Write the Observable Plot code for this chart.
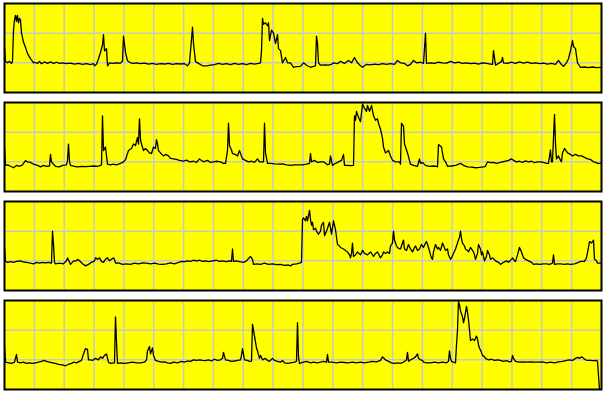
<!DOCTYPE html>
<html>
<head>
<meta charset="utf-8">
<script src="https://cdn.jsdelivr.net/npm/d3@7"></script>
<script src="https://cdn.jsdelivr.net/npm/@observablehq/plot@0.6"></script>
<style>
  html, body { margin: 0; padding: 0; background: #ffffff; }
  #charts svg { display: block; }
</style>
</head>
<body>
<div id="charts"></div>
<script>
const series1 = [[0,1.5],[1,1.05],[3,1.0],[5,1.05],[7,0.98],[8,1.05],[9,2.1],[10,2.45],[11,2.6],[12,2.4],[13,2.6],[14,2.35],[15,2.5],[16,2.45],[17,2.0],[18,1.85],[19,1.7],[21,1.52],[23,1.31],[25,1.2],[26,1.14],[28,1.05],[29,1.0],[30,1.02],[33,0.98],[35,1.05],[37,0.97],[40,1.03],[43,0.98],[46,1.03],[49,0.98],[52,1.02],[55,0.98],[58,1.0],[62,0.97],[66,0.99],[70,0.96],[74,0.98],[78,0.95],[82,0.97],[86,0.94],[89,0.97],[90,0.9],[92,0.95],[94,1.14],[96,1.35],[98,1.6],[99,1.95],[100,1.4],[102,1.48],[103,0.9],[105,1.0],[108,0.98],[112,1.0],[116,0.99],[118,1.05],[119,1.9],[121,1.35],[123,1.07],[126,1.0],[129,0.98],[132,1.0],[136,0.97],[140,0.99],[144,0.96],[148,0.98],[152,0.95],[156,0.97],[160,0.96],[164,0.98],[168,0.95],[172,0.97],[176,0.96],[180,0.97],[183,0.9],[185,1.0],[188,2.2],[189,1.65],[191,1.04],[194,0.98],[198,0.9],[202,0.9],[206,0.92],[210,0.94],[214,0.98],[218,0.95],[222,0.97],[226,0.94],[230,0.98],[234,0.95],[238,0.97],[242,0.94],[246,0.98],[250,0.96],[254,0.98],[256,1.0],[257,1.41],[258,2.5],[259,2.3],[261,2.35],[263,2.25],[264,2.35],[265,1.75],[267,2.1],[269,2.0],[271,1.65],[273,1.95],[274,1.48],[276,1.41],[278,1.0],[281,1.18],[283,1.0],[286,1.0],[289,0.85],[292,0.87],[296,0.88],[299,1.0],[302,0.92],[306,0.85],[309,0.88],[311,0.9],[312,1.9],[313,1.65],[314,1.0],[316,0.92],[320,0.93],[324,0.92],[327,0.95],[329,1.0],[333,0.97],[336,1.05],[340,0.98],[344,1.08],[347,1.0],[350,1.18],[353,1.0],[356,0.9],[358,0.85],[362,0.95],[366,0.93],[370,0.96],[374,0.94],[378,0.97],[382,0.95],[386,0.97],[390,0.95],[393,1.08],[396,1.0],[400,0.98],[403,0.9],[406,0.95],[409,1.08],[412,1.0],[416,1.02],[419,0.98],[421,2.0],[422,0.98],[426,1.0],[430,0.98],[434,1.02],[438,1.0],[442,0.99],[446,1.05],[450,1.0],[454,1.02],[458,0.98],[462,1.0],[466,0.97],[470,0.99],[474,0.96],[478,1.0],[482,0.98],[486,0.96],[488,0.95],[489,1.41],[491,0.92],[494,0.98],[497,1.05],[498,1.18],[499,1.0],[503,0.98],[507,1.02],[511,0.98],[515,1.03],[519,0.99],[523,1.02],[527,0.98],[531,1.0],[535,0.97],[539,0.99],[543,0.96],[547,0.98],[551,0.95],[554,1.08],[556,0.98],[559,0.88],[562,1.0],[564,1.14],[566,1.41],[568,1.75],[569,1.55],[571,1.48],[573,1.0],[576,0.85],[580,0.86],[584,0.84],[588,0.86],[592,0.84],[596,0.85]];

const series2 = [[0,1.48],[1,0.88],[3,0.9],[6,0.85],[9,0.8],[12,0.88],[15,0.85],[18,0.9],[21,1.04],[23,1.0],[26,0.98],[29,0.92],[33,0.88],[36,0.83],[39,0.88],[42,0.85],[45,0.86],[46,1.25],[47,1.0],[48,0.95],[51,0.85],[55,0.83],[58,0.88],[62,0.9],[63,1.04],[64,1.6],[65,1.0],[66,0.88],[70,0.85],[73,0.83],[77,0.85],[81,0.84],[85,0.85],[89,0.86],[93,0.85],[96,0.88],[97,0.9],[98,2.55],[99,1.38],[101,1.5],[103,0.92],[106,0.9],[109,0.92],[112,0.9],[116,0.95],[119,1.0],[121,1.07],[124,1.38],[127,1.45],[129,1.6],[131,1.55],[133,1.82],[134,1.6],[135,2.45],[136,1.75],[137,1.6],[139,1.38],[141,1.45],[143,1.38],[145,1.3],[147,1.28],[149,1.5],[151,1.45],[152,1.75],[153,1.6],[154,1.38],[156,1.3],[159,1.2],[161,1.25],[164,1.2],[166,1.12],[169,1.1],[172,1.08],[175,1.05],[179,1.02],[182,1.06],[185,1.0],[189,1.02],[192,0.98],[195,1.1],[196,1.07],[199,1.0],[203,1.05],[206,0.98],[209,1.0],[212,1.02],[216,1.0],[219,0.95],[221,0.95],[223,1.38],[224,2.3],[225,1.55],[227,1.4],[228,1.28],[231,1.25],[233,1.2],[235,1.38],[238,1.1],[241,1.05],[244,1.0],[247,1.02],[250,0.98],[253,1.1],[255,1.0],[258,1.0],[259,1.0],[260,2.3],[261,1.3],[263,0.95],[266,0.95],[270,0.93],[274,0.92],[278,0.93],[282,0.9],[286,0.88],[290,0.9],[294,0.9],[298,0.9],[302,0.92],[305,0.95],[306,1.28],[307,1.0],[310,1.05],[313,0.98],[316,1.0],[319,1.0],[323,0.9],[325,0.93],[326,1.2],[328,0.88],[331,0.95],[334,1.0],[337,1.05],[339,1.25],[340,0.88],[343,0.88],[346,0.87],[349,0.88],[350,2.55],[351,2.4],[352,2.7],[354,2.5],[356,2.35],[358,2.95],[360,2.8],[362,2.7],[363,2.9],[365,2.7],[367,2.9],[369,2.55],[371,2.4],[373,2.45],[374,2.3],[375,2.2],[376,2.1],[378,1.8],[379,1.5],[381,1.3],[384,1.38],[386,1.2],[388,1.05],[391,1.0],[393,1.0],[395,1.0],[396,0.92],[397,2.3],[399,2.2],[400,1.6],[402,1.4],[403,1.3],[406,0.92],[409,0.88],[413,0.85],[415,1.1],[416,0.95],[418,0.98],[421,0.88],[425,0.85],[429,0.86],[432,0.85],[433,0.83],[434,1.58],[437,1.5],[439,1.1],[441,1.0],[443,0.85],[447,0.86],[451,0.88],[454,0.92],[456,0.95],[459,0.88],[463,0.83],[467,0.82],[471,0.8],[475,0.81],[479,0.83],[481,0.85],[483,1.0],[486,0.97],[489,0.98],[492,0.95],[495,0.97],[498,1.0],[501,1.02],[504,1.05],[507,1.1],[509,1.05],[512,1.0],[515,1.02],[518,0.98],[521,1.03],[524,1.0],[527,1.02],[530,0.97],[533,1.0],[536,1.0],[539,0.98],[542,0.95],[544,0.95],[546,1.4],[547,1.0],[548,1.0],[549,1.82],[550,2.6],[551,1.6],[552,1.1],[554,1.2],[556,1.05],[557,1.0],[558,1.3],[560,1.45],[562,1.35],[563,1.3],[566,1.25],[568,1.2],[571,1.25],[574,1.2],[577,1.2],[580,1.15],[583,1.1],[586,1.08],[589,1.0],[591,0.98],[593,0.95],[596,0.95]];

const series3 = [[0,1.45],[1,0.98],[3,0.95],[6,0.97],[9,0.95],[12,0.98],[16,1.0],[19,0.96],[22,0.95],[26,0.92],[29,0.9],[32,0.95],[35,0.92],[38,0.95],[41,0.93],[44,0.95],[47,0.92],[48,2.0],[49,1.55],[50,0.95],[51,0.9],[55,0.92],[59,0.9],[62,1.0],[63,1.1],[65,0.95],[66,0.88],[69,1.0],[72,1.0],[73,1.05],[75,1.0],[78,0.9],[81,0.83],[84,0.88],[87,0.95],[90,1.0],[91,1.1],[93,1.05],[95,1.1],[97,0.98],[99,0.95],[101,1.05],[103,1.1],[105,1.0],[107,1.05],[109,1.1],[110,1.05],[111,0.92],[114,0.93],[118,0.88],[122,0.9],[126,0.88],[130,0.92],[134,0.9],[138,0.93],[142,0.92],[146,0.9],[150,0.92],[154,0.89],[158,0.88],[162,0.9],[166,0.93],[170,0.9],[174,0.95],[177,0.98],[180,0.97],[183,1.0],[186,0.98],[189,1.02],[192,1.0],[195,1.02],[198,0.98],[201,1.0],[204,0.97],[208,1.0],[212,1.02],[215,0.98],[218,1.0],[222,0.97],[225,1.0],[227,0.98],[228,1.4],[229,0.98],[232,1.0],[235,0.97],[239,0.95],[242,1.0],[244,1.08],[246,1.15],[248,1.05],[249,0.88],[252,0.9],[256,0.88],[260,0.92],[264,0.88],[268,0.9],[272,0.87],[276,0.88],[280,0.85],[284,0.86],[286,0.83],[288,0.88],[292,0.9],[295,0.92],[297,0.95],[298,2.4],[299,2.45],[301,2.35],[302,2.5],[303,2.35],[305,2.7],[306,2.4],[307,2.2],[308,2.3],[309,2.05],[311,2.1],[312,2.0],[314,1.9],[316,2.0],[317,2.2],[319,2.3],[320,1.85],[322,2.0],[323,2.1],[325,2.3],[327,1.9],[329,2.35],[331,2.05],[333,1.55],[335,1.5],[336,1.45],[339,1.4],[341,1.35],[343,1.3],[345,1.2],[346,1.1],[347,1.25],[348,1.6],[349,1.15],[351,1.2],[353,1.3],[356,1.2],[358,1.35],[360,1.25],[363,1.2],[366,1.3],[368,1.2],[369,1.15],[371,1.25],[373,1.3],[376,1.1],[378,1.2],[379,1.3],[381,1.25],[383,1.3],[385,1.25],[386,1.5],[388,1.6],[389,2.0],[390,1.7],[392,1.5],[393,1.45],[395,1.4],[396,1.4],[399,1.7],[400,1.4],[402,1.35],[404,1.55],[406,1.4],[408,1.3],[410,1.45],[411,1.5],[413,1.35],[415,1.4],[417,1.55],[419,1.45],[421,1.6],[422,1.65],[424,1.45],[426,1.2],[427,1.1],[428,1.05],[429,1.3],[431,1.55],[433,1.4],[434,1.45],[436,1.35],[438,1.6],[441,1.35],[443,1.4],[444,1.2],[446,1.05],[447,1.1],[449,1.25],[451,1.4],[453,1.6],[455,1.8],[456,2.0],[457,1.75],[458,1.6],[460,1.5],[461,1.4],[463,1.35],[464,1.3],[466,1.45],[468,1.35],[469,1.3],[470,1.2],[471,1.05],[473,1.25],[474,1.55],[476,1.4],[477,1.2],[478,1.3],[480,1.0],[482,1.15],[483,1.35],[485,1.2],[486,1.05],[488,1.1],[491,1.0],[494,0.95],[496,0.88],[499,0.95],[502,1.0],[504,0.95],[507,1.05],[508,1.1],[510,1.0],[511,0.98],[513,1.2],[515,1.45],[517,1.3],[519,1.1],[521,1.05],[524,1.0],[527,0.95],[529,0.88],[532,0.9],[535,0.88],[539,0.9],[542,0.9],[545,0.88],[548,0.92],[549,1.2],[550,0.88],[553,0.9],[556,0.9],[560,0.88],[563,0.9],[566,0.88],[570,0.9],[574,0.95],[576,0.98],[580,0.98],[582,1.1],[584,1.45],[585,1.65],[587,1.6],[589,1.7],[590,1.05],[592,1.0],[593,0.92],[596,0.92]];

const series4 = [[0,1.48],[1,0.92],[4,0.9],[7,0.88],[10,0.92],[12,1.18],[13,0.92],[16,0.9],[19,0.92],[22,0.88],[25,0.9],[28,0.88],[31,0.9],[34,0.92],[37,0.95],[39,0.98],[42,0.95],[45,0.92],[48,0.9],[51,0.88],[54,0.85],[58,0.83],[61,0.8],[64,0.85],[67,0.88],[69,0.92],[72,0.9],[75,0.95],[77,0.98],[79,1.2],[81,1.38],[83,1.35],[84,1.0],[86,1.0],[88,0.98],[91,1.05],[94,1.0],[96,1.1],[98,1.05],[100,1.15],[102,1.2],[103,1.05],[104,0.92],[106,0.88],[109,0.9],[110,0.9],[111,2.45],[112,1.6],[113,0.88],[116,0.9],[120,0.88],[124,0.9],[128,0.92],[132,0.9],[136,0.9],[140,0.92],[142,1.0],[143,1.3],[145,1.45],[146,1.2],[148,1.4],[149,1.15],[151,0.98],[154,0.95],[157,0.92],[160,0.93],[163,0.9],[166,0.88],[169,0.92],[173,0.9],[177,0.95],[180,0.92],[183,0.96],[186,0.95],[189,1.0],[192,0.98],[195,1.0],[198,0.98],[201,0.97],[204,1.0],[207,0.96],[210,1.02],[213,0.98],[216,1.0],[218,1.05],[219,1.25],[221,1.0],[224,0.98],[227,0.95],[230,0.96],[233,0.98],[236,1.0],[237,1.15],[238,1.38],[240,1.0],[243,0.98],[245,0.95],[247,0.96],[248,2.2],[250,1.8],[251,1.6],[252,1.4],[253,1.3],[255,1.05],[256,1.15],[258,1.0],[261,1.05],[263,0.98],[265,0.95],[268,1.05],[270,0.98],[273,0.95],[276,0.92],[278,0.98],[280,0.9],[283,0.88],[286,0.9],[290,0.92],[292,0.95],[293,2.25],[294,1.1],[295,0.88],[299,0.92],[302,0.95],[306,0.9],[309,0.92],[313,0.9],[316,0.92],[319,0.95],[322,0.92],[323,1.18],[324,0.92],[328,0.92],[332,0.9],[336,0.92],[340,0.91],[344,0.9],[348,0.92],[352,0.9],[356,0.92],[360,0.9],[364,0.92],[368,0.95],[372,0.93],[376,0.98],[378,1.1],[381,1.0],[384,0.95],[387,0.9],[390,0.88],[393,0.9],[396,0.88],[399,0.92],[402,1.0],[403,1.25],[404,0.95],[406,1.0],[409,1.05],[411,1.1],[413,1.2],[414,1.05],[416,1.0],[418,0.98],[419,0.92],[422,0.9],[426,0.9],[430,0.92],[434,0.9],[438,0.92],[442,0.9],[444,0.95],[445,1.3],[446,1.05],[447,0.95],[449,0.92],[451,0.9],[452,1.5],[453,2.0],[454,2.97],[455,2.85],[456,2.65],[458,2.45],[459,2.25],[460,2.4],[462,2.8],[463,2.6],[464,2.35],[465,2.0],[466,1.65],[468,1.7],[470,1.65],[472,1.8],[473,1.7],[474,1.5],[475,1.4],[477,1.25],[478,1.15],[480,1.1],[481,1.05],[484,1.0],[487,1.02],[490,0.98],[493,1.0],[496,0.98],[499,0.95],[502,0.97],[505,0.93],[507,0.95],[508,1.15],[509,1.05],[511,0.95],[514,0.92],[518,0.93],[522,0.92],[526,0.93],[530,0.92],[534,0.92],[538,0.93],[542,0.9],[546,0.92],[550,0.9],[554,0.93],[558,0.95],[562,0.98],[565,1.0],[568,0.98],[571,1.05],[573,1.08],[575,1.05],[577,1.1],[579,1.05],[581,1.0],[583,0.98],[586,0.98],[589,0.97],[592,0.98],[593,0.95],[595,0.0]];

const panels = [series1, series2, series3, series4];
const xMax = 597;
const xDivisions = 20;
const yGridValues = [1, 2];

const xGrid = d3.range(1, xDivisions).map(i => i * xMax / xDivisions);
const container = document.getElementById("charts");

for (const data of panels) {
  const chart = Plot.plot({
    width: 605,
    height: 99,
    marginTop: 3,
    marginBottom: 7,
    marginLeft: 4,
    marginRight: 4,
    x: {domain: [0, xMax], axis: null},
    y: {domain: [0, 3], axis: null},
    marks: [
      Plot.frame({fill: "#ffff00"}),
      Plot.gridX(xGrid, {stroke: "#c8c8c8", strokeOpacity: 1, strokeWidth: 1.5}),
      Plot.gridY(yGridValues, {stroke: "#c8c8c8", strokeOpacity: 1, strokeWidth: 1.5}),
      Plot.line(data, {x: d => d[0], y: d => d[1], stroke: "black", strokeWidth: 1.3}),
      Plot.frame({stroke: "black", strokeWidth: 2})
    ]
  });
  container.appendChild(chart);
}
</script>
</body>
</html>
